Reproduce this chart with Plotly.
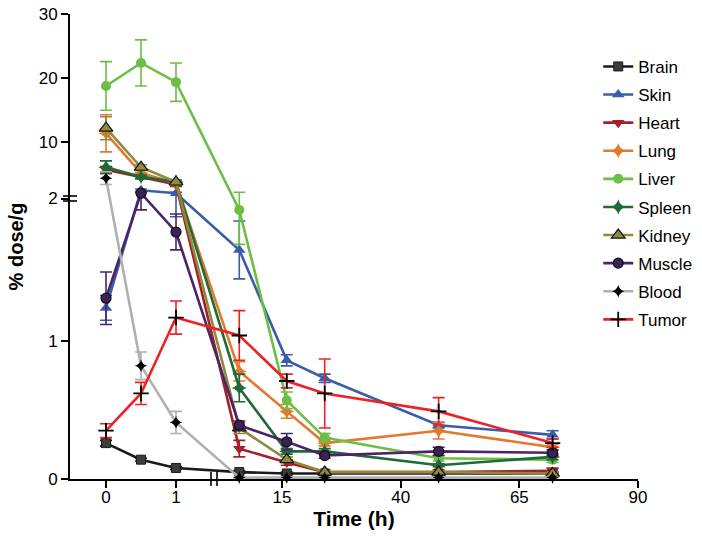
import plotly.graph_objects as go

# ---------------- data ----------------
times = [0, 0.5, 1, 6, 16, 24, 48, 72]

brain = [0.26, 0.14, 0.08, 0.05, 0.04, 0.04, 0.04, 0.04]
brain_err = [0.02, 0.01, 0.01, 0.01, 0.01, 0.01, 0.01, 0.01]
skin = [1.24, 2.5, 2.05, 1.66, 0.86, 0.73, 0.39, 0.32]
skin_err = [0.09, 0.2, 0.15, 0.21, 0.04, 0.03, 0.02, 0.03]
heart = [5.7, 4.6, 3.4, 0.22, 0.12, 0.05, 0.05, 0.06]
heart_err = [0.5, 0.3, 0.3, 0.06, 0.02, 0.01, 0.01, 0.02]
lung = [11.4, 5.2, 3.6, 0.78, 0.49, 0.26, 0.35, 0.23]
lung_err = [2.9, 0.4, 0.3, 0.07, 0.05, 0.02, 0.06, 0.02]
liver = [18.8, 22.4, 19.4, 1.95, 0.57, 0.30, 0.15, 0.14]
liver_err = [3.8, 3.6, 3.0, 0.25, 0.06, 0.03, 0.02, 0.02]
spleen = [6.1, 4.6, 3.8, 0.66, 0.20, 0.20, 0.10, 0.16]
spleen_err = [1.0, 0.3, 0.3, 0.10, 0.02, 0.02, 0.01, 0.02]
kidney = [12.2, 6.1, 3.8, 0.37, 0.14, 0.05, 0.05, 0.04]
kidney_err = [1.8, 0.4, 0.3, 0.04, 0.02, 0.01, 0.01, 0.01]
muscle = [1.31, 2.05, 1.79, 0.39, 0.27, 0.17, 0.20, 0.19]
muscle_err = [0.19, 0.10, 0.13, 0.03, 0.06, 0.02, 0.03, 0.02]
blood = [4.4, 0.82, 0.41, 0.01, 0.01, 0.01, 0.01, 0.01]
blood_err = [1.0, 0.10, 0.08, 0.005, 0.005, 0.005, 0.005, 0.005]
tumor = [0.35, 0.62, 1.17, 1.04, 0.71, 0.62, 0.49, 0.26]
tumor_err = [0.05, 0.08, 0.12, 0.18, 0.05, 0.25, 0.10, 0.03]

x_ticks = [0, 1, 15, 40, 65, 90]
y_ticks = [0, 1, 2, 10, 20, 30]

# ---------------- broken-axis transforms ----------------
def tx(t):
    # left segment 0..~1.5, right segment ~1.5..90
    return 70 * t if t <= 1.5 else 176 + 4.747 * (t - 15)

def ty(v):
    # lower segment 0..2, upper segment 2..30
    return 138 * v if v <= 2 else 285.5 + 6.4 * (v - 2)

FONT = "Liberation Sans, Arial, sans-serif"

series = [
    ("Brain", brain, brain_err, "#1a1a1a", dict(symbol="square", color="#3c3c3c", size=9, line=dict(color="#1a1a1a", width=1))),
    ("Skin", skin, skin_err, "#3a5ca9", dict(symbol="triangle-up", color="#3a5ca9", size=11)),
    ("Heart", heart, heart_err, "#a3202a", dict(symbol="triangle-down", color="#a3202a", size=11)),
    ("Lung", lung, lung_err, "#e07a30", dict(symbol="star-diamond", color="#e07a30", size=11)),
    ("Liver", liver, liver_err, "#6cbe45", dict(symbol="circle", color="#6cbe45", size=10)),
    ("Spleen", spleen, spleen_err, "#1f6b37", dict(symbol="star-diamond", color="#1f6b37", size=11)),
    ("Kidney", kidney, kidney_err, "#8e8b3a", dict(symbol="triangle-up", color="#8e8b3a", size=12, line=dict(color="#111", width=1.2))),
    ("Muscle", muscle, muscle_err, "#4a2466", dict(symbol="circle", color="#3d1f5c", size=10, line=dict(color="#111", width=1.2))),
    ("Blood", blood, blood_err, "#b0b0b0", dict(symbol="star-diamond", color="#000", size=9)),
    ("Tumor", tumor, tumor_err, "#ec2227", dict(symbol="cross-thin", color="#000", size=11, line=dict(color="#000", width=1.8))),
]

fig = go.Figure()
for name, vals, errs, col, mk in series:
    xs = [tx(t) for t in times]
    ys = [ty(v) for v in vals]
    up = [ty(v + e) - ty(v) for v, e in zip(vals, errs)]
    dn = [ty(v) - ty(max(v - e, 0)) for v, e in zip(vals, errs)]
    fig.add_trace(go.Scatter(
        x=xs, y=ys, name=name, mode="lines+markers", legendgroup=name,
        line=dict(color=col, width=2.6),
        marker=mk, cliponaxis=False,
        error_y=dict(type="data", array=up, arrayminus=dn, color=col, thickness=1.6, width=6, symmetric=False),
    ))

# break marks
shapes = []
for yy in (278, 283):
    shapes.append(dict(type="line", xref="paper", yref="y", x0=-7 / 568, x1=7 / 568, y0=yy, y1=yy,
                       line=dict(color="black", width=1.6)))
for xx in (105, 111):
    shapes.append(dict(type="line", xref="x", yref="paper", x0=xx, x1=xx, y0=-7 / 465, y1=7 / 465,
                       line=dict(color="black", width=1.6)))

y_tickvals = [ty(v) for v in y_ticks]
y_tickvals[2] = 280.5

fig.update_layout(
    width=702, height=551,
    margin=dict(l=70, r=64, t=14, b=72, autoexpand=False),
    paper_bgcolor="white", plot_bgcolor="white",
    font=dict(family=FONT, size=17, color="black"),
    shapes=shapes,
    showlegend=True,
    legend=dict(x=0.93, y=0.925, xanchor="left", yanchor="top", bgcolor="rgba(0,0,0,0)",
                font=dict(size=17), tracegroupgap=3, itemwidth=30),
    xaxis=dict(range=[-36, 532], tickvals=[tx(t) for t in x_ticks], ticktext=[str(t) for t in x_ticks],
               showline=True, linecolor="black", linewidth=2, ticks="outside", ticklen=7, tickwidth=2,
               tickcolor="black", showgrid=False, zeroline=False, automargin=False, ticklabelstandoff=-5,
               title=dict(text="<b>Time (h)</b>", font=dict(size=21), standoff=0)),
    yaxis=dict(range=[0, 465], tickvals=y_tickvals, ticktext=[str(v) for v in y_ticks],
               showline=True, linecolor="black", linewidth=2, ticks="outside", ticklen=7, tickwidth=2,
               tickcolor="black", showgrid=False, zeroline=False, automargin=False,
               title=dict(text="<b>% dose/g</b>", font=dict(size=20), standoff=10)),
)

# remove the default page margin so the figure sits at the window's top-left corner
fig.write_html("out.html", config={"displayModeBar": False},
               post_script="document.body.style.margin='0';")
